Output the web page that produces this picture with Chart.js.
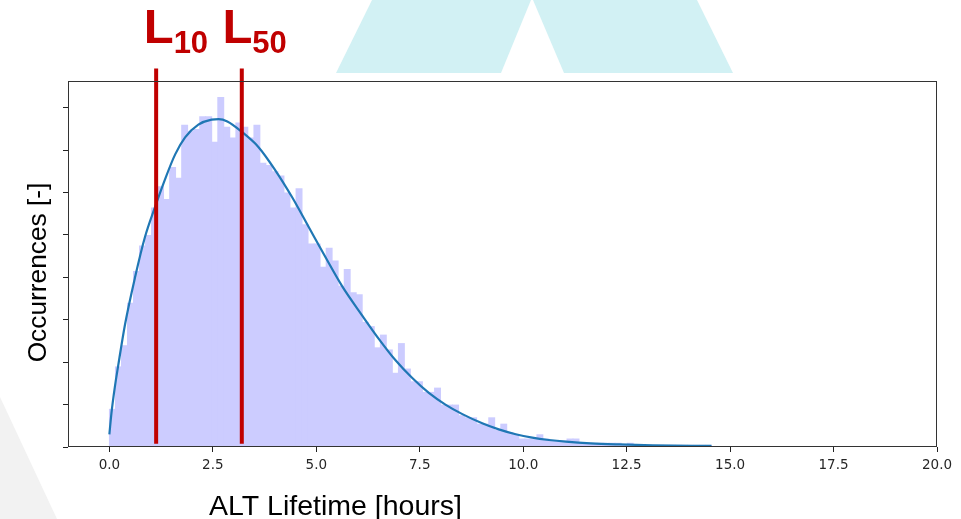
<!DOCTYPE html>
<html>
<head>
<meta charset="utf-8">
<script src="https://cdn.jsdelivr.net/npm/chart.js@4"></script>
<style>
  html, body { margin: 0; padding: 0; background: #fff; }
  #wrap { width: 961px; height: 519px; }
</style>
</head>
<body>
<div id="wrap"><canvas id="chart" width="961" height="519"></canvas></div>
<script>
// ALT lifetime histogram: 100 equal bins starting at 0 h
const binStart = 0;
const binWidth = 0.1455;
const binCounts = [
  18, 38, 48, 68, 83, 95, 100, 113, 123, 117,
  132, 127, 152, 149, 150, 156, 156, 144, 165, 151,
  146, 153, 151, 146, 152, 134, 133, 130, 128, 120,
  113, 122, 105, 96, 96, 85, 94, 88, 76, 84,
  73, 72, 59, 57, 47, 53, 46, 35, 49, 37,
  31, 31, 26, 26, 28, 20, 20, 20, 15, 14,
  14, 11, 11, 14, 8, 11, 7, 6, 4, 4,
  4, 6, 4, 3, 3, 3, 4, 4, 2, 2,
  2, 2, 2, 2, 2, 1, 2, 1, 1, 1,
  1, 1, 1, 1, 1, 1, 1, 1, 1, 1
];

// fitted distribution curve
const curveX = [0, 0.05, 0.13, 0.21, 0.38, 0.62, 0.86, 1.10, 1.34, 1.59, 1.83, 2.15, 2.47, 2.64, 2.85,
  3.20, 3.60, 4.01, 4.41, 4.81, 5.22, 5.62, 6.11, 6.51, 6.91, 7.32, 7.72, 8.12, 8.53, 9.01,
  9.41, 9.82, 10.22, 10.62, 11.03, 11.63, 12.32, 13.13, 14.55];
const curveY = [6, 16, 28, 38, 58, 80, 99, 113, 126, 138, 146, 152, 154.4, 154.6, 153.5,
  148.6, 141.5, 130.5, 118, 104, 89.6, 76, 62, 51, 41, 32.5, 25.5, 20, 15.5, 11.2,
  8.3, 6, 4.4, 3.3, 2.5, 1.7, 1.2, 0.8, 0.5];

// L10 / L50 lifetimes
const l10 = 1.13;
const l50 = 3.20;
const markerSpan = [1.5, 178.5];

const xTickValues = [0, 2.5, 5, 7.5, 10, 12.5, 15, 17.5, 20];
const yTickValues = [0, 20, 40, 60, 80, 100, 120, 140, 160];

const red = "#c00000";

const bars = binCounts.map((c, i) => ({ x: binStart + (i + 0.5) * binWidth, y: c }));
const curve = curveX.map((x, i) => ({ x: x, y: curveY[i] }));
const marker = v => markerSpan.map(y => ({ x: v, y: y }));

const decor = {
    id: "decor",
    beforeDraw(chart) {
        const ctx = chart.ctx;
        ctx.save();
        ctx.fillStyle = "#fff";
        ctx.fillRect(0, 0, chart.width, chart.height);
        // background shapes
        ctx.fillStyle = "#d2f1f4";
        ctx.beginPath();
        ctx.moveTo(372, 0); ctx.lineTo(531, 0); ctx.lineTo(501, 73); ctx.lineTo(336, 73);
        ctx.closePath(); ctx.fill();
        ctx.beginPath();
        ctx.moveTo(533, 0); ctx.lineTo(697, 0); ctx.lineTo(733, 73); ctx.lineTo(564, 73);
        ctx.closePath(); ctx.fill();
        ctx.fillStyle = "#f2f2f2";
        ctx.beginPath();
        ctx.moveTo(0, 397); ctx.lineTo(57, 519); ctx.lineTo(0, 519);
        ctx.closePath(); ctx.fill();
        ctx.restore();
    },
    afterDatasetsDraw(chart) {
        const ctx = chart.ctx, a = chart.chartArea;
        ctx.save();
        ctx.strokeStyle = "#333";
        ctx.lineWidth = 1;
        ctx.strokeRect(a.left + 0.5, a.top + 0.5, a.right - a.left - 1, a.bottom - a.top - 1);
        ctx.restore();
    },
    afterDraw(chart) {
        const ctx = chart.ctx;
        ctx.save();
        ctx.fillStyle = "#000";
        ctx.textBaseline = "alphabetic";
        // axis titles
        ctx.font = "28.5px 'Liberation Sans', Arial, sans-serif";
        ctx.textAlign = "center";
        ctx.fillText("ALT Lifetime [hours]", 335.5, 515);
        ctx.translate(46, 272.5);
        ctx.rotate(-Math.PI / 2);
        ctx.font = "26.3px 'Liberation Sans', Arial, sans-serif";
        ctx.fillText("Occurrences [-]", 0, 0);
        ctx.restore();

        // L10 / L50 labels
        ctx.save();
        ctx.fillStyle = red;
        ctx.textAlign = "left";
        const label = (x, sub) => {
            ctx.font = "bold 49px 'Liberation Sans', Arial, sans-serif";
            ctx.fillText("L", x, 42.7);
            const w = ctx.measureText("L").width;
            ctx.font = "bold 31px 'Liberation Sans', Arial, sans-serif";
            ctx.fillText(sub, x + w, 53.3);
        };
        label(143.7, "10");
        label(222.4, "50");
        ctx.restore();
    }
};

new Chart(document.getElementById("chart"), {
    type: "bar",
    data: {
        datasets: [
            { type: "line", data: marker(l10), borderColor: red, borderWidth: 4, borderCapStyle: "butt",
              pointRadius: 0, clip: false, order: 0 },
            { type: "line", data: marker(l50), borderColor: red, borderWidth: 4, borderCapStyle: "butt",
              pointRadius: 0, clip: false, order: 0 },
            { type: "line", data: curve, borderColor: "#1f77b4", borderWidth: 2.2,
              pointRadius: 0, cubicInterpolationMode: "monotone", order: 1 },
            { type: "bar", data: bars, backgroundColor: "#ccccff", borderWidth: 0,
              barPercentage: 1, categoryPercentage: 1.15, order: 2 }
        ]
    },
    options: {
        responsive: false,
        animation: false,
        devicePixelRatio: 1,
        layout: { padding: { top: 81, right: 24, left: 0, bottom: 0 } },
        plugins: { legend: { display: false }, tooltip: { enabled: false } },
        scales: {
            x: {
                type: "linear", min: -1, max: 20, offset: false,
                afterFit: s => { s.height = 72; },
                afterBuildTicks: s => { s.ticks = xTickValues.map(v => ({ value: v })); },
                grid: { offset: false, drawOnChartArea: false, drawTicks: true, tickLength: 5, tickColor: "#222" },
                border: { display: false },
                ticks: {
                    font: { family: "'DejaVu Sans'", size: 13.5 }, color: "#262626",
                    padding: 5, maxRotation: 0, autoSkip: false,
                    callback: v => Number(v).toFixed(1)
                }
            },
            y: {
                min: 0, max: 172.6,
                afterFit: s => { s.width = 68; },
                afterBuildTicks: s => { s.ticks = yTickValues.map(v => ({ value: v })); },
                grid: { drawOnChartArea: false, drawTicks: true, tickLength: 5, tickColor: "#222" },
                border: { display: false },
                ticks: { display: false }
            }
        }
    },
    plugins: [decor]
});
</script>
</body>
</html>
